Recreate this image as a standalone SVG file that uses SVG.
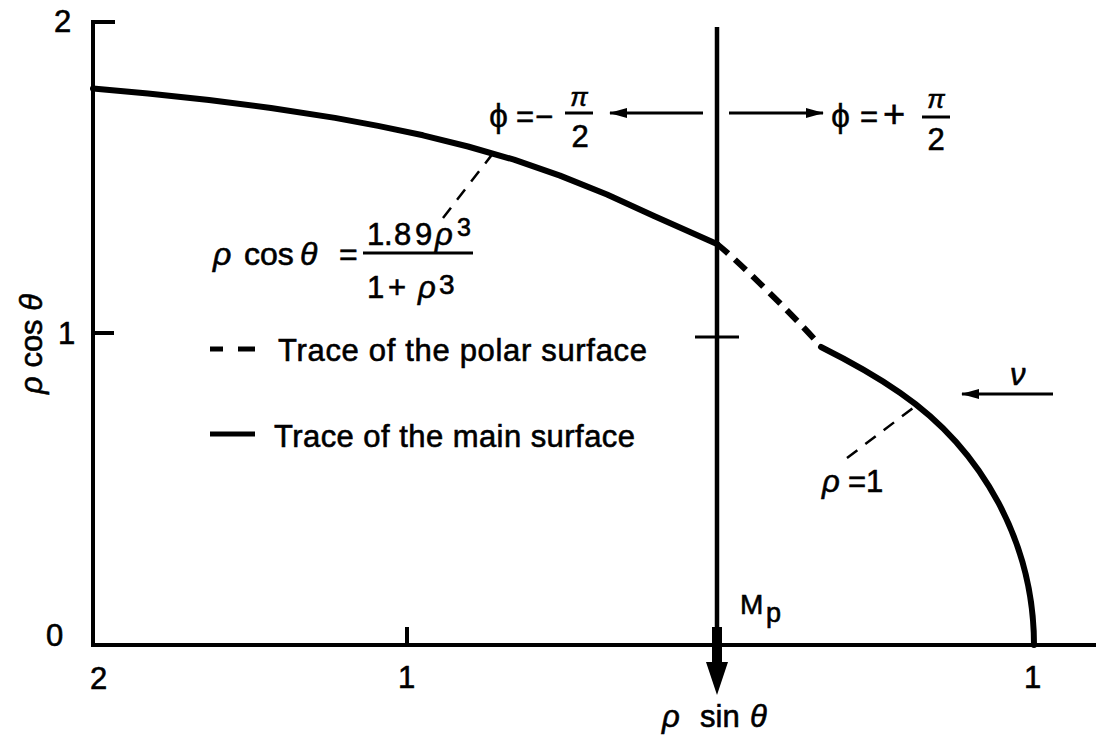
<svg xmlns="http://www.w3.org/2000/svg" width="1098" height="741" viewBox="0 0 1098 741">
<style>
  text { font-family: "Liberation Sans", "DejaVu Sans", sans-serif; fill: #000; stroke: #000; stroke-width: 0.6; }
  .lbl { font-size: 31px; }
  .gr { font-style: italic; }
  .phi { font-size: 34px; stroke-width: 0.3; }
  .axis { stroke: #000; stroke-width: 4; fill: none; }
  .curve { stroke: #000; stroke-width: 6; fill: none; stroke-linejoin: round; stroke-linecap: round; }
  .dash { stroke: #000; stroke-width: 6; fill: none; stroke-dasharray: 15 9; }
  .lead { stroke: #000; stroke-width: 2.5; fill: none; stroke-dasharray: 13 10; }
  .arr { stroke: #000; stroke-width: 3; fill: none; }
</style>
<defs>
  <marker id="ah" viewBox="0 0 18 10" refX="17" refY="5" markerWidth="18" markerHeight="10" markerUnits="userSpaceOnUse" orient="auto">
    <path d="M0,0 L18,5 L0,10 Z" fill="#000"/>
  </marker>
</defs>
<rect width="1098" height="741" fill="#fff"/>

<g id="axes">
  <path class="axis" d="M115,22 H93 V645 H1096"/>
  <path class="axis" d="M93,333 H114"/>
  <path class="axis" d="M407,645 V627"/>
  <text class="lbl" x="54" y="32">2</text>
  <text class="lbl" x="58" y="344">1</text>
  <text class="lbl" x="46" y="646">0</text>
  <text class="lbl" x="90" y="689">2</text>
  <text class="lbl" x="398" y="688">1</text>
  <text class="lbl" x="1024" y="688">1</text>
  <text class="lbl" transform="translate(42,394) rotate(-90)"><tspan class="gr">ρ</tspan> cos <tspan class="gr">θ</tspan></text>
  <text class="lbl" x="662" y="727"><tspan class="gr">ρ</tspan><tspan x="700">sin</tspan><tspan class="gr" x="750">θ</tspan></text>
</g>

<g id="connectors">
  <polyline class="curve" points="93,88.5 148,93.5 209,100 271,108 335,117.9 378,125.9 423,135.3 468,146.5 514,159.7 560,175.6 607,194.5 654,216 690,232 717,244"/>
  <path class="dash" d="M717,244 C737,260 790,312 818,343"/>
  <path class="curve" d="M821,347 C847,360 873,374 900,392.7 A317,309 0 0 1 1034,645"/>
  <line class="lead" x1="443" y1="218" x2="494" y2="152"/>
  <line class="lead" x1="847" y1="458" x2="913" y2="408"/>
  <line x1="717" y1="27" x2="717" y2="630" stroke="#000" stroke-width="4.5"/>
  <line x1="717" y1="627" x2="717" y2="664" stroke="#000" stroke-width="10"/>
  <polygon points="706,662 728,662 717,695" fill="#000"/>
  <line x1="695" y1="337" x2="739" y2="337" stroke="#000" stroke-width="3"/>
  <line class="arr" x1="703" y1="113" x2="610" y2="113" marker-end="url(#ah)"/>
  <line class="arr" x1="729" y1="113" x2="823" y2="113" marker-end="url(#ah)"/>
  <line class="arr" x1="1053" y1="394" x2="962" y2="394" marker-end="url(#ah)"/>
</g>

<g id="phi-minus">
  <text class="lbl" x="489" y="127"><tspan class="phi">ϕ</tspan><tspan x="516">=</tspan><tspan x="535">−</tspan></text>
  <text x="579" y="106" font-size="26" text-anchor="middle" class="gr">π</text>
  <line x1="565" y1="113" x2="593" y2="113" stroke="#000" stroke-width="3"/>
  <text class="lbl" x="580" y="147" text-anchor="middle">2</text>
</g>

<g id="phi-plus">
  <text class="lbl" x="831" y="127"><tspan class="phi">ϕ</tspan><tspan x="860">=</tspan><tspan x="883" font-size="38">+</tspan></text>
  <text x="936" y="108" font-size="26" text-anchor="middle" class="gr">π</text>
  <line x1="922" y1="117" x2="950" y2="117" stroke="#000" stroke-width="3"/>
  <text class="lbl" x="936" y="150" text-anchor="middle">2</text>
</g>

<g id="formula">
  <text font-size="32" x="213" y="265"><tspan class="gr">ρ</tspan><tspan x="244">cos</tspan><tspan class="gr" x="300">θ</tspan><tspan x="339">=</tspan></text>
  <line x1="363" y1="253" x2="473" y2="253" stroke="#000" stroke-width="3"/>
  <text font-size="31" x="367" y="245">1<tspan x="384">.</tspan><tspan x="394">8</tspan><tspan x="415">9</tspan><tspan class="gr" x="435">ρ</tspan></text>
  <text font-size="25" x="457" y="236">3</text>
  <text font-size="31" x="367" y="298">1<tspan x="388">+</tspan><tspan class="gr" x="418">ρ</tspan></text>
  <text font-size="28" x="439" y="294">3</text>
</g>

<g id="legend">
  <line x1="210" y1="349" x2="223" y2="349" stroke="#000" stroke-width="5"/>
  <line x1="238" y1="349" x2="255" y2="349" stroke="#000" stroke-width="5"/>
  <text class="lbl" x="278" y="361" textLength="369" lengthAdjust="spacing">Trace of the polar surface</text>
  <line x1="210" y1="434" x2="255" y2="434" stroke="#000" stroke-width="5"/>
  <text class="lbl" x="274" y="447" textLength="361" lengthAdjust="spacing">Trace of the main surface</text>
</g>

<g id="rho-one">
  <text class="lbl" x="822" y="492"><tspan class="gr">ρ</tspan><tspan x="848">=</tspan><tspan x="866">1</tspan></text>
</g>

<g id="nu">
  <text class="lbl gr" x="1010" y="385">ν</text>
</g>

<g id="mp">
  <text font-size="28" x="740" y="614">M</text>
  <text font-size="27" x="766" y="622">p</text>
</g>
</svg>
